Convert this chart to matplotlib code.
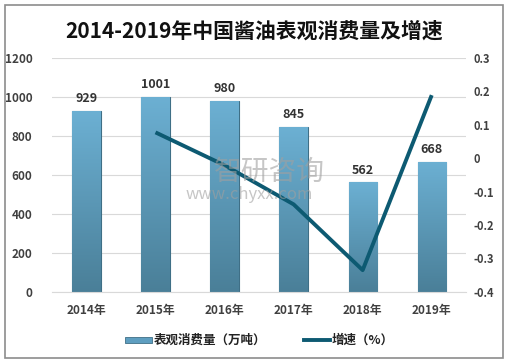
import numpy as np
import matplotlib
matplotlib.use("Agg")
import matplotlib.pyplot as plt
from matplotlib.patches import Rectangle
from matplotlib.colors import LinearSegmentedColormap

plt.rcParams['font.family'] = ['Noto Sans CJK SC', 'DejaVu Sans']

years = ["2014年", "2015年", "2016年", "2017年", "2018年", "2019年"]
consumption = [929, 1001, 980, 845, 562, 668]
growth = [None, 0.0775, -0.021, -0.138, -0.335, 0.189]
left_ticks = [0, 200, 400, 600, 800, 1000, 1200]
right_ticks = [-0.4, -0.3, -0.2, -0.1, 0, 0.1, 0.2, 0.3]
right_labels = ["-0.4", "-0.3", "-0.2", "-0.1", "0", "0.1", "0.2", "0.3"]

fig = plt.figure(figsize=(5.09, 3.63), dpi=100)
fig.patches.append(Rectangle((0.01, 0.014), 0.978, 0.972, transform=fig.transFigure,
                             fill=False, edgecolor="#8c8c8c", lw=1.2))

ax = fig.add_axes([0.102, 0.196, 0.814, 0.644])
x = np.arange(len(years))
bars = ax.bar(x, consumption, width=0.41, color="#5e9ec0", edgecolor="#3f6f86", lw=0.8, zorder=2)

# vertical gradient inside each bar
cmap = LinearSegmentedColormap.from_list("g", ["#4a7f98", "#6cb0d3"])
grad = np.linspace(0, 1, 256).reshape(-1, 1)
for b in bars:
    x0, y0, w, h = b.get_x(), b.get_y(), b.get_width(), b.get_height()
    im = ax.imshow(grad, cmap=cmap, origin="lower", aspect="auto",
                   extent=[x0, x0 + w, y0, y0 + h], zorder=2)
    im.set_clip_path(b)

for xi, v in zip(x, consumption):
    ax.text(xi, v + 30, str(v), ha="center", va="bottom", fontsize=9,
            fontweight="bold", color="#333333", zorder=4)

ax.set_xlim(-0.5, len(years) - 0.5)
ax.set_ylim(0, 1200)
ax.set_yticks(left_ticks)
ax.set_yticklabels([str(t) for t in left_ticks])
ax.set_xticks(x)
ax.set_xticklabels(years, fontweight="bold")
ax.grid(axis="y", color="#d9d9d9", lw=0.8, zorder=0)
ax.set_axisbelow(True)
for s in ["top", "right", "left"]:
    ax.spines[s].set_visible(False)
ax.spines["bottom"].set_color("#d9d9d9")
ax.tick_params(axis="both", length=0, labelsize=8.5, colors="#404040")
ax.tick_params(axis="y", pad=14)
ax.tick_params(axis="x", pad=9)
for t in ax.get_yticklabels():
    t.set_fontweight("bold")

ax2 = ax.twinx()
gx = [xi for xi, g in zip(x, growth) if g is not None]
gy = [g for g in growth if g is not None]
ax2.plot(gx, gy, color="#0d5a72", lw=2.8, solid_capstyle="butt", zorder=5)
ax2.set_ylim(-0.4, 0.3)
ax2.set_yticks(right_ticks)
ax2.set_yticklabels(right_labels, fontweight="bold")
ax2.tick_params(axis="y", length=0, labelsize=8, colors="#404040", pad=5)
for s in ax2.spines.values():
    s.set_visible(False)

fig.text(0.5, 0.915, "2014-2019年中国酱油表观消费量及增速", ha="center", va="center",
         fontsize=15, fontweight="bold", color="#111111")

# watermark
fig.text(0.42, 0.527, "智研咨询", fontsize=20, color="#a0a0a0", alpha=0.6, va="center")
fig.text(0.365, 0.465, "www.chyxx.com", fontsize=12, color="#a0a0a0", alpha=0.6, va="center")

# legend
fig.patches.append(Rectangle((0.246, 0.054), 0.053, 0.018, transform=fig.transFigure,
                             facecolor="#5e9ec0", edgecolor="#3f6f86", lw=0.6))
fig.text(0.303, 0.063, "表观消费量（万吨）", fontsize=9, fontweight="bold", va="center", color="#222222")
fig.lines.append(plt.Line2D([0.598, 0.648], [0.063, 0.063], transform=fig.transFigure,
                            color="#0d5a72", lw=2.8))
fig.text(0.652, 0.063, "增速（%）", fontsize=9, fontweight="bold", va="center", color="#222222")

fig.savefig("out.png", dpi=100)
